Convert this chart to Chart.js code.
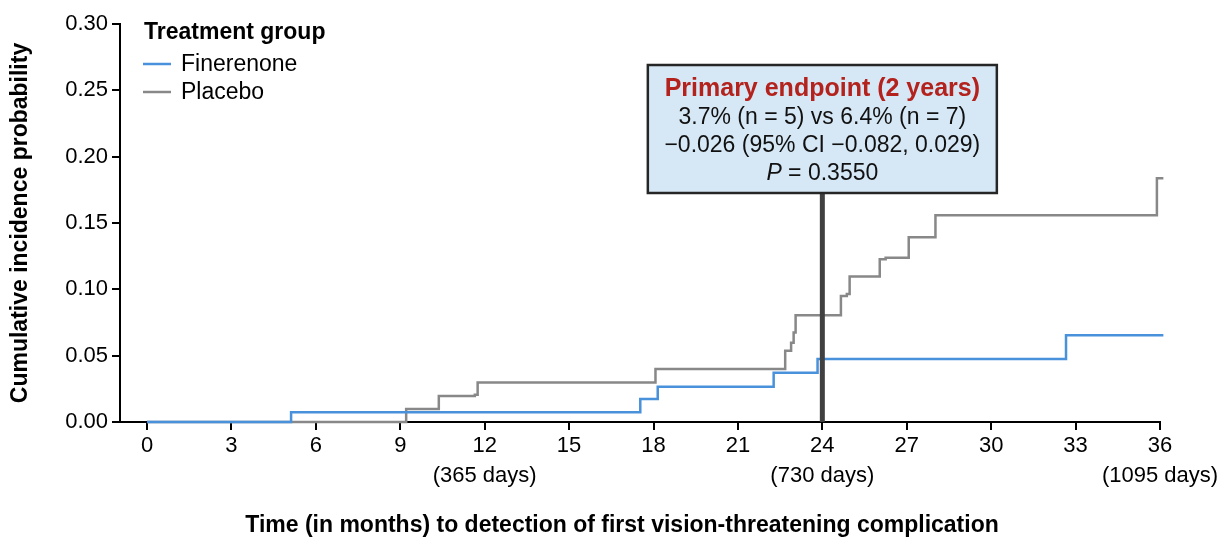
<!DOCTYPE html>
<html>
<head>
<meta charset="utf-8">
<title>Cumulative incidence</title>
<script src="https://cdn.jsdelivr.net/npm/chart.js@4.4.1/dist/chart.umd.min.js"></script>
<style>
  html, body { margin: 0; padding: 0; background: #fff; }
  #wrap { width: 1223px; height: 542px; position: relative; }
</style>
</head>
<body>
<div id="wrap"><canvas id="cic"></canvas></div>
<script>
// Step points (months, cumulative incidence)
const fineMonths = [0, 5.12, 17.53, 18.15, 22.27, 23.83, 32.66, 36.12];
const fineCum    = [0, 0.0073, 0.0173, 0.0266, 0.0372, 0.0475, 0.0654, 0.0654];

const placMonths = [0, 9.21, 10.37, 11.65, 11.75, 18.07, 22.68, 22.89, 22.98, 23.05,
                    24.66, 24.87, 24.97, 26.04, 26.25, 27.07, 28.02, 35.89, 36.12];
const placCum    = [0, 0.0098, 0.0196, 0.0206, 0.0297, 0.040, 0.0538, 0.0598, 0.0674, 0.0804,
                    0.095, 0.0965, 0.1096, 0.1227, 0.1239, 0.1393, 0.1559, 0.1838, 0.1838];

const xTicks = [0, 3, 6, 9, 12, 15, 18, 21, 24, 27, 30, 33, 36];
const dayTicks = [12, 24, 36];
const dayLabels = ['(365 days)', '(730 days)', '(1095 days)'];
const yTicks = [0, 0.05, 0.10, 0.15, 0.20, 0.25, 0.30];

const endpointMonth = 24;
const endpointTitle = 'Primary endpoint (2 years)';
const endpointLines = ['3.7% (n = 5) vs 6.4% (n = 7)', '\u22120.026 (95% CI \u22120.082, 0.029)'];
const endpointP = '0.3550';

const BLUE = '#4a91dc';
const GRAY = '#888888';
const FONT = '"Liberation Sans", Arial, Helvetica, sans-serif';

function pts(xs, ys) {
    return xs.map((x, i) => ({ x: x, y: ys[i] }));
}

// box, vertical marker, legend and x title
const overlay = {
    id: 'overlay',
    afterDatasetsDraw(chart) {
        const ctx = chart.ctx;
        const xs = chart.scales.x, ys = chart.scales.y;
        const lx = xs.getPixelForValue(endpointMonth);
        const boxW = 349, boxTop = 65, boxBot = 193;

        ctx.save();
        // marker line
        ctx.strokeStyle = '#404040';
        ctx.lineWidth = 5;
        ctx.beginPath();
        ctx.moveTo(lx, ys.getPixelForValue(0));
        ctx.lineTo(lx, boxBot);
        ctx.stroke();

        // box
        ctx.fillStyle = '#d6e7f5';
        ctx.fillRect(lx - boxW / 2, boxTop, boxW, boxBot - boxTop);
        ctx.strokeStyle = '#262626';
        ctx.lineWidth = 2.5;
        ctx.strokeRect(lx - boxW / 2, boxTop, boxW, boxBot - boxTop);

        ctx.textAlign = 'center';
        ctx.textBaseline = 'middle';
        ctx.fillStyle = '#b3221c';
        ctx.font = 'bold 25px ' + FONT;
        ctx.fillText(endpointTitle, lx, 89);
        ctx.fillStyle = '#111';
        ctx.font = '23px ' + FONT;
        ctx.fillText(endpointLines[0], lx, 118);
        ctx.fillText(endpointLines[1], lx, 146);
        // "P = 0.3550" with italic P
        const rest = ' = ' + endpointP;
        ctx.font = 'italic 23px ' + FONT;
        const wp = ctx.measureText('P').width;
        ctx.font = '23px ' + FONT;
        const wr = ctx.measureText(rest).width;
        const sx = lx - (wp + wr) / 2;
        ctx.textAlign = 'left';
        ctx.font = 'italic 23px ' + FONT;
        ctx.fillText('P', sx, 174);
        ctx.font = '23px ' + FONT;
        ctx.fillText(rest, sx + wp, 174);

        // legend
        ctx.fillStyle = '#000';
        ctx.font = 'bold 23px ' + FONT;
        ctx.fillText('Treatment group', 144, 33);
        ctx.font = '23px ' + FONT;
        chart.data.datasets.forEach((ds, i) => {
            const y = 64 + i * 28;
            ctx.strokeStyle = ds.borderColor;
            ctx.lineWidth = 2.5;
            ctx.beginPath();
            ctx.moveTo(143, y);
            ctx.lineTo(171, y);
            ctx.stroke();
            ctx.fillStyle = '#000';
            ctx.fillText(ds.label, 181, y + 1);
        });

        // x axis title
        ctx.textAlign = 'center';
        ctx.font = 'bold 23px ' + FONT;
        ctx.fillText('Time (in months) to detection of first vision-threatening complication', 622, 526);
        ctx.restore();
    }
};

new Chart(document.getElementById('cic'), {
    type: 'line',
    data: {
        datasets: [
            { label: 'Finerenone', data: pts(fineMonths, fineCum), borderColor: BLUE,
              borderWidth: 2.5, stepped: 'before', pointRadius: 0, fill: false, clip: false },
            { label: 'Placebo', data: pts(placMonths, placCum), borderColor: GRAY,
              borderWidth: 2.5, stepped: 'before', pointRadius: 0, fill: false, clip: false }
        ]
    },
    options: {
        responsive: true,
        maintainAspectRatio: false,
        animation: false,
        layout: { padding: { left: 0, top: 24, right: 63, bottom: 0 } },
        plugins: { legend: { display: false }, tooltip: { enabled: false } },
        scales: {
            x: {
                type: 'linear',
                min: -0.96,
                max: 36,
                afterBuildTicks: (s) => { s.ticks = xTicks.map(v => ({ value: v })); },
                afterFit: (s) => { s.height = 120; },
                ticks: {
                    color: '#000',
                    padding: 1,
                    maxRotation: 0,
                    autoSkip: false,
                    font: { family: FONT, size: 22, lineHeight: 1.36 },
                    callback: (v) => {
                        const k = dayTicks.indexOf(v);
                        return k >= 0 ? [String(v), dayLabels[k]] : String(v);
                    }
                },
                grid: { drawOnChartArea: false, drawTicks: true, tickLength: 8, color: '#000', lineWidth: 2 },
                border: { color: '#000', width: 2 }
            },
            y: {
                min: 0,
                max: 0.30,
                afterBuildTicks: (s) => { s.ticks = yTicks.map(v => ({ value: v })); },
                afterFit: (s) => { s.width = 120; },
                ticks: {
                    color: '#000',
                    padding: 4,
                    font: { family: FONT, size: 22 },
                    callback: (v) => v.toFixed(2)
                },
                title: {
                    display: true,
                    text: 'Cumulative incidence probability',
                    color: '#000',
                    padding: { top: 7, bottom: 0 },
                    font: { family: FONT, size: 23, weight: 'bold' }
                },
                grid: { drawOnChartArea: false, drawTicks: true, tickLength: 8, color: '#000', lineWidth: 2 },
                border: { color: '#000', width: 2 }
            }
        }
    },
    plugins: [overlay]
});
</script>
</body>
</html>
